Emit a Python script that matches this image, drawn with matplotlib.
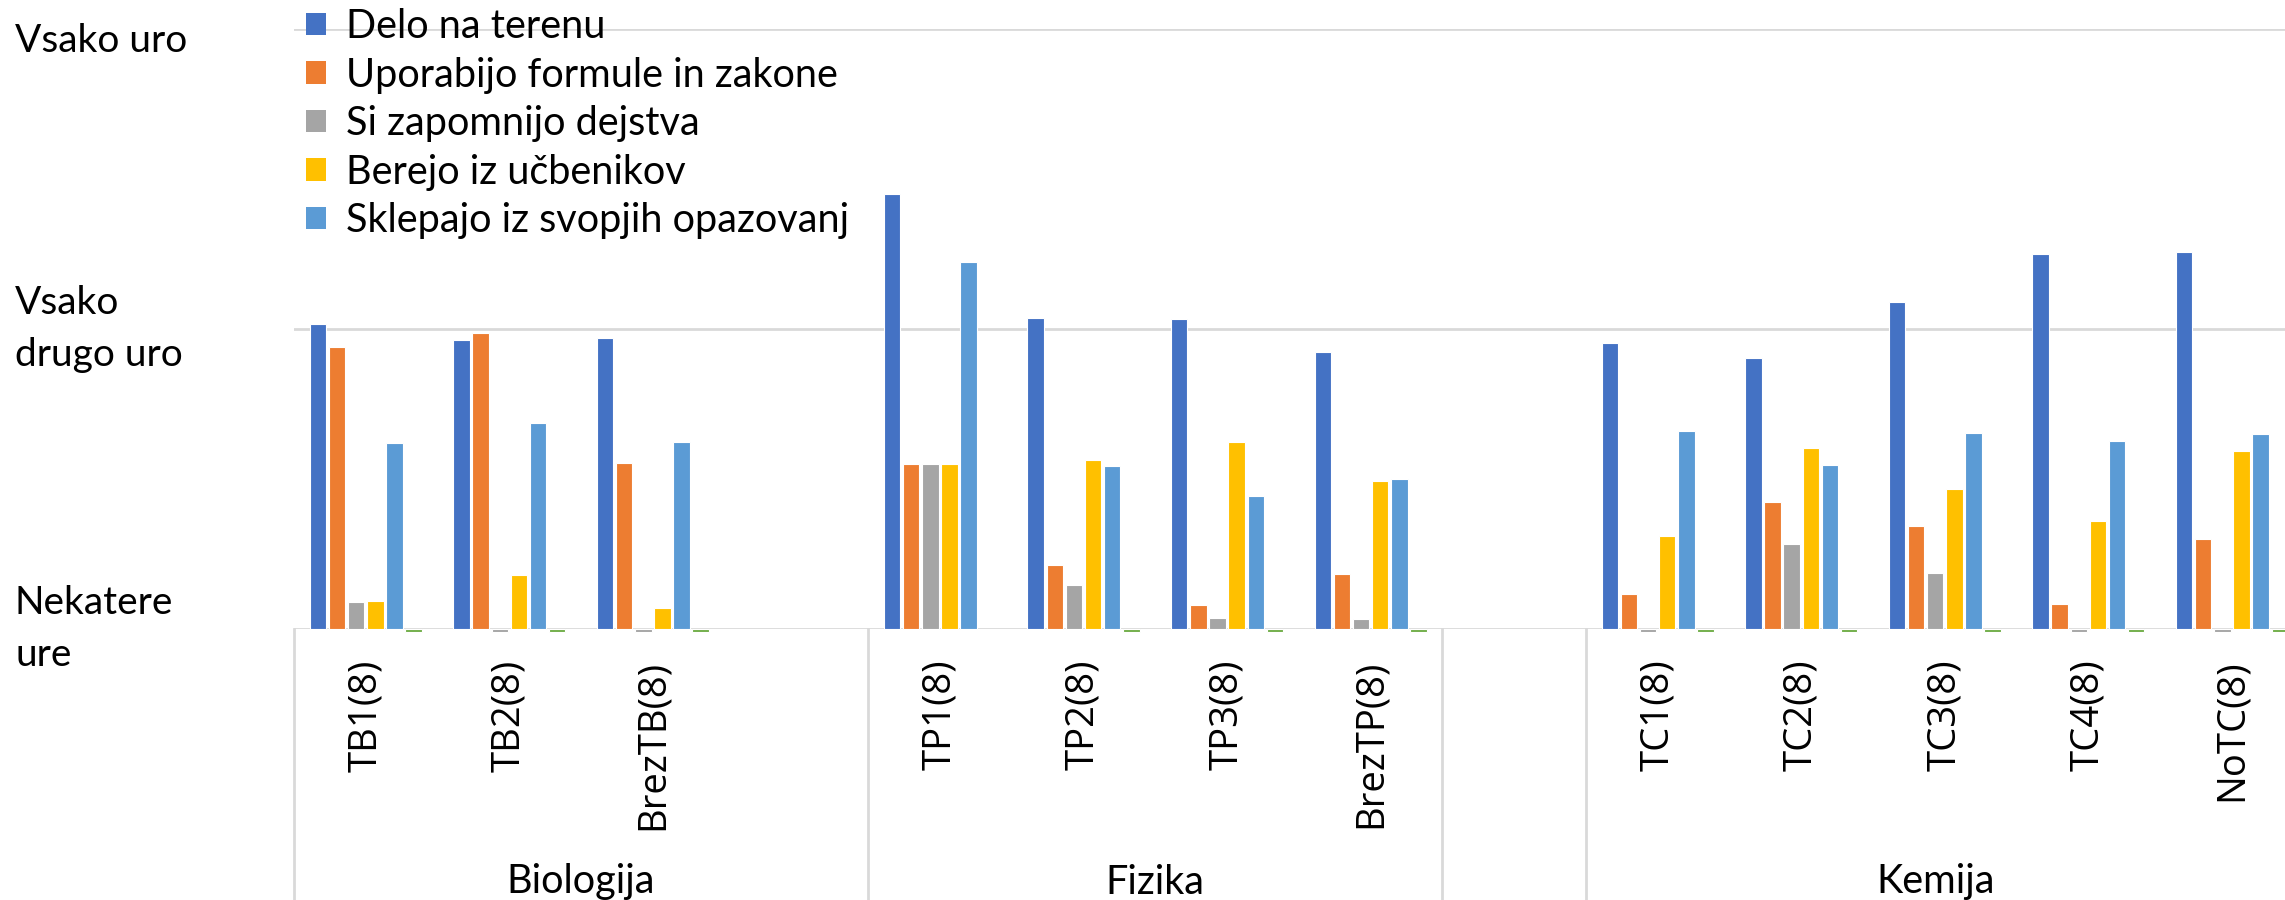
import numpy as np
import matplotlib
matplotlib.use("Agg")
import matplotlib.pyplot as plt
from matplotlib.patches import Patch
from matplotlib.lines import Line2D
from matplotlib.transforms import blended_transform_factory

nan = np.nan

# categories (empty slots are gaps Excel left in the source table)
categories = ["TB1(8)", "TB2(8)", "BrezTB(8)", "",
              "TP1(8)", "TP2(8)", "TP3(8)", "BrezTP(8)",
              "",
              "TC1(8)", "TC2(8)", "TC3(8)", "TC4(8)", "NoTC(8)"]
groups = [("Biologija", 0, 4), ("Fizika", 4, 8), ("", 8, 9), ("Kemija", 9, 14)]

series_names = ["Delo na terenu", "Uporabijo formule in zakone", "Si zapomnijo dejstva",
                "Berejo iz učbenikov", "Sklepajo iz svopjih opazovanj", ""]

# 1 = Nekatere ure, 2 = Vsako drugo uro, 3 = Vsako uro
delo = [2.016, 1.964, 1.970, nan, 2.449, 2.038, 2.033, 1.925, nan, 1.953, 1.903, 2.089, 2.250, 2.257]
formule = [1.939, 1.985, 1.552, nan, 1.549, 1.214, 1.081, 1.184, nan, 1.118, 1.425, 1.342, 1.085, 1.299]
dejstva = [1.089, 0.99, 0.99, nan, 1.549, 1.147, 1.038, 1.035, nan, 0.99, 1.285, 1.188, 0.99, 0.99]
ucbeniki = [1.092, 1.179, 1.071, nan, 1.549, 1.564, 1.624, 1.492, nan, 1.310, 1.604, 1.466, 1.359, 1.592]
opazovanja = [1.621, 1.688, 1.622, nan, 2.223, 1.545, 1.445, 1.501, nan, 1.659, 1.548, 1.655, 1.626, 1.649]
ostalo = [0.99, 0.99, 0.99, nan, nan, 0.99, 0.99, 0.99, nan, 0.99, 0.99, 0.99, 0.99, 0.99]

y_levels = [1, 2, 3]
y_labels = ["Nekatere\nure", "Vsako\ndrugo uro", "Vsako uro"]

colors = ["#4472C4", "#ED7D31", "#A5A5A5", "#FFC000", "#5B9BD5", "#70AD47"]
all_series = [delo, formule, dejstva, ucbeniki, opazovanja, ostalo]

txt_font = ["Lato", "DejaVu Sans"]
tick_font = ["Open Sans", "DejaVu Sans"]
grid_col = "#D9D9D9"

fig = plt.figure(figsize=(22.85, 9), dpi=100)
ax = fig.add_axes([294 / 2285, 1 - 629 / 900, 1 - 294 / 2285, 600 / 900])

x = np.arange(len(categories))
slot = 1 / 7.5
for i, (vals, col) in enumerate(zip(all_series, colors)):
    v = np.array(vals, dtype=float)
    ax.bar(x + (i - 2.5) * slot, v - 1, bottom=1, width=slot * 0.86,
           color=col, edgecolor="white", linewidth=0.8, zorder=3, clip_on=False)

ax.set_xlim(-0.5, 13.37)
ax.set_ylim(1, 3)
for s in ax.spines.values():
    s.set_visible(False)

for lv in [2, 3]:
    ax.axhline(lv, color=grid_col, lw=2, zorder=1)
ax.axhline(1, color=grid_col, lw=2, zorder=2)

ax.set_yticks([])
ax.set_xticks(x, categories, rotation=90, fontsize=27.5, family=tick_font)
ax.tick_params(axis="x", length=0, pad=22)

# group dividers and labels below the axis
trans_div = blended_transform_factory(ax.transData, fig.transFigure)
xmax = ax.get_xlim()[1]
for name, a, b in groups:
    ax.add_line(Line2D([a - 0.5, a - 0.5], [0, 1 - 629 / 900], transform=trans_div,
                       color=grid_col, lw=2, clip_on=False))
    if name:
        mid = (a - 0.5 + min(b - 0.5, xmax)) / 2
        fig.text(mid, 18 / 900, name, transform=trans_div, ha="center", va="center",
                 fontsize=28.5, family=txt_font)

# y category labels
trans_y = blended_transform_factory(fig.transFigure, ax.transData)
for lv, lab in zip(y_levels, y_labels):
    yy = lv if lv < 3 else 2.96
    ax.text(15 / 2285, yy, lab, transform=trans_y, ha="left", va="center",
            fontsize=28, family=txt_font, linespacing=1.55, clip_on=False)

handles = [Patch(facecolor=c) for c in colors[:5]]
fig.legend(handles, series_names[:5], loc="upper left",
           bbox_to_anchor=(306 / 2285, 0.991), frameon=False, borderpad=0,
           prop={"family": txt_font, "size": 28.5},
           handlelength=0.5, handleheight=0.5, handletextpad=0.5,
           labelspacing=0.29, borderaxespad=0)

fig.savefig("out.png", dpi=100)
